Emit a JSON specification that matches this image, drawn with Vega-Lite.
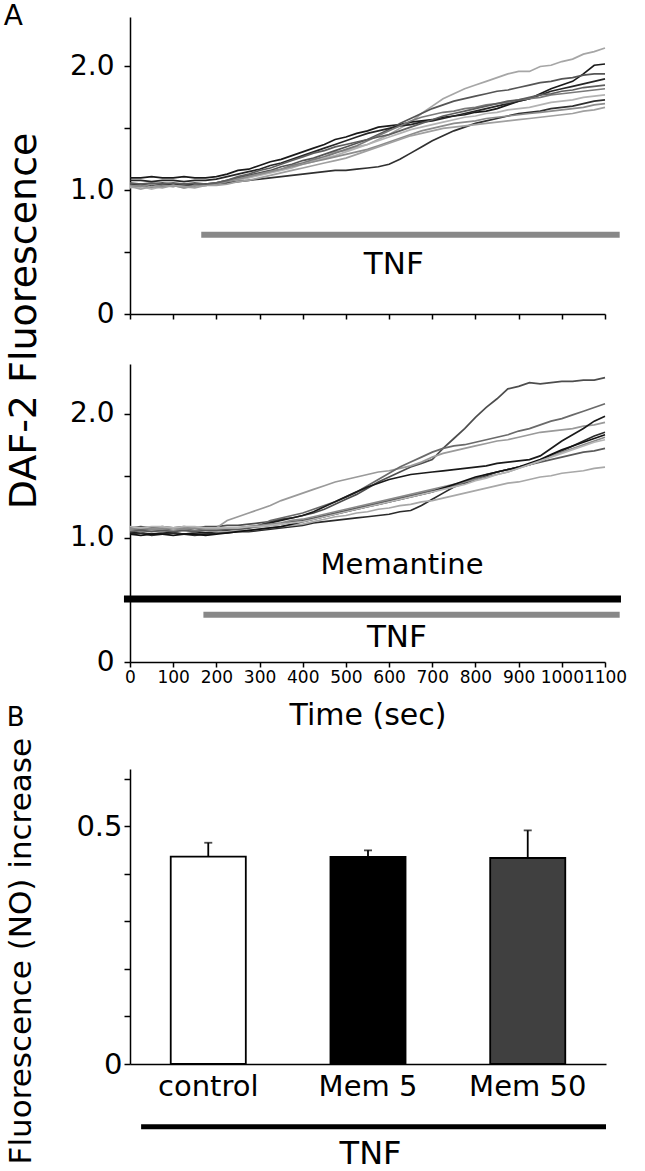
{
"$schema": "https://vega.github.io/schema/vega-lite/v6.json",
"padding": {"left": 3, "top": 3, "right": 5, "bottom": 2},
"bounds": "flush",
"spacing": 50,
"config": {
  "font": "DejaVu Sans",
  "view": {"stroke": null},
  "text": {"font": "DejaVu Sans", "color": "black"},
  "axis": {"domainColor": "black", "tickColor": "black", "labelColor": "black", "titleColor": "black", "grid": false, "domainWidth": 1.5, "tickWidth": 1.5, "labelFont": "DejaVu Sans", "titleFont": "DejaVu Sans", "titleFontWeight": "normal", "labelOverlap": false, "labelBound": false, "labelFlush": false}
},
"resolve": {"scale": {"color": "independent"}},
"datasets": {
"a1": [
{"s":"a1","t":0,"v":1.04},{"s":"a1","t":25,"v":1.03},{"s":"a1","t":50,"v":1.05},{"s":"a1","t":75,"v":1.04},{"s":"a1","t":100,"v":1.05},{"s":"a1","t":125,"v":1.04},{"s":"a1","t":150,"v":1.05},{"s":"a1","t":175,"v":1.05},{"s":"a1","t":200,"v":1.06},{"s":"a1","t":225,"v":1.08},{"s":"a1","t":250,"v":1.10},{"s":"a1","t":275,"v":1.11},{"s":"a1","t":300,"v":1.13},{"s":"a1","t":325,"v":1.15},{"s":"a1","t":350,"v":1.17},{"s":"a1","t":375,"v":1.20},{"s":"a1","t":400,"v":1.22},{"s":"a1","t":425,"v":1.24},{"s":"a1","t":450,"v":1.27},{"s":"a1","t":475,"v":1.31},{"s":"a1","t":500,"v":1.32},{"s":"a1","t":525,"v":1.35},{"s":"a1","t":550,"v":1.37},{"s":"a1","t":575,"v":1.41},{"s":"a1","t":600,"v":1.45},{"s":"a1","t":625,"v":1.50},{"s":"a1","t":650,"v":1.55},{"s":"a1","t":675,"v":1.62},{"s":"a1","t":700,"v":1.68},{"s":"a1","t":725,"v":1.74},{"s":"a1","t":750,"v":1.78},{"s":"a1","t":775,"v":1.82},{"s":"a1","t":800,"v":1.85},{"s":"a1","t":825,"v":1.88},{"s":"a1","t":850,"v":1.91},{"s":"a1","t":875,"v":1.94},{"s":"a1","t":900,"v":1.96},{"s":"a1","t":925,"v":1.96},{"s":"a1","t":950,"v":2.00},{"s":"a1","t":975,"v":2.01},{"s":"a1","t":1000,"v":2.04},{"s":"a1","t":1025,"v":2.06},{"s":"a1","t":1050,"v":2.10},{"s":"a1","t":1075,"v":2.12},{"s":"a1","t":1100,"v":2.15},
{"s":"a2","t":0,"v":1.10},{"s":"a2","t":25,"v":1.10},{"s":"a2","t":50,"v":1.11},{"s":"a2","t":75,"v":1.10},{"s":"a2","t":100,"v":1.10},{"s":"a2","t":125,"v":1.11},{"s":"a2","t":150,"v":1.10},{"s":"a2","t":175,"v":1.10},{"s":"a2","t":200,"v":1.11},{"s":"a2","t":225,"v":1.13},{"s":"a2","t":250,"v":1.16},{"s":"a2","t":275,"v":1.17},{"s":"a2","t":300,"v":1.20},{"s":"a2","t":325,"v":1.23},{"s":"a2","t":350,"v":1.25},{"s":"a2","t":375,"v":1.28},{"s":"a2","t":400,"v":1.31},{"s":"a2","t":425,"v":1.34},{"s":"a2","t":450,"v":1.37},{"s":"a2","t":475,"v":1.41},{"s":"a2","t":500,"v":1.43},{"s":"a2","t":525,"v":1.46},{"s":"a2","t":550,"v":1.48},{"s":"a2","t":575,"v":1.51},{"s":"a2","t":600,"v":1.52},{"s":"a2","t":625,"v":1.53},{"s":"a2","t":650,"v":1.55},{"s":"a2","t":675,"v":1.56},{"s":"a2","t":700,"v":1.57},{"s":"a2","t":725,"v":1.59},{"s":"a2","t":750,"v":1.60},{"s":"a2","t":775,"v":1.61},{"s":"a2","t":800,"v":1.63},{"s":"a2","t":825,"v":1.64},{"s":"a2","t":850,"v":1.66},{"s":"a2","t":875,"v":1.69},{"s":"a2","t":900,"v":1.72},{"s":"a2","t":925,"v":1.74},{"s":"a2","t":950,"v":1.78},{"s":"a2","t":975,"v":1.82},{"s":"a2","t":1000,"v":1.85},{"s":"a2","t":1025,"v":1.88},{"s":"a2","t":1050,"v":1.94},{"s":"a2","t":1075,"v":2.01},{"s":"a2","t":1100,"v":2.02},
{"s":"a3","t":0,"v":1.05},{"s":"a3","t":25,"v":1.04},{"s":"a3","t":50,"v":1.05},{"s":"a3","t":75,"v":1.06},{"s":"a3","t":100,"v":1.05},{"s":"a3","t":125,"v":1.04},{"s":"a3","t":150,"v":1.05},{"s":"a3","t":175,"v":1.05},{"s":"a3","t":200,"v":1.06},{"s":"a3","t":225,"v":1.08},{"s":"a3","t":250,"v":1.10},{"s":"a3","t":275,"v":1.12},{"s":"a3","t":300,"v":1.14},{"s":"a3","t":325,"v":1.16},{"s":"a3","t":350,"v":1.19},{"s":"a3","t":375,"v":1.21},{"s":"a3","t":400,"v":1.24},{"s":"a3","t":425,"v":1.26},{"s":"a3","t":450,"v":1.29},{"s":"a3","t":475,"v":1.32},{"s":"a3","t":500,"v":1.35},{"s":"a3","t":525,"v":1.38},{"s":"a3","t":550,"v":1.41},{"s":"a3","t":575,"v":1.45},{"s":"a3","t":600,"v":1.49},{"s":"a3","t":625,"v":1.54},{"s":"a3","t":650,"v":1.58},{"s":"a3","t":675,"v":1.62},{"s":"a3","t":700,"v":1.66},{"s":"a3","t":725,"v":1.69},{"s":"a3","t":750,"v":1.72},{"s":"a3","t":775,"v":1.74},{"s":"a3","t":800,"v":1.76},{"s":"a3","t":825,"v":1.78},{"s":"a3","t":850,"v":1.80},{"s":"a3","t":875,"v":1.81},{"s":"a3","t":900,"v":1.83},{"s":"a3","t":925,"v":1.85},{"s":"a3","t":950,"v":1.87},{"s":"a3","t":975,"v":1.88},{"s":"a3","t":1000,"v":1.90},{"s":"a3","t":1025,"v":1.91},{"s":"a3","t":1050,"v":1.93},{"s":"a3","t":1075,"v":1.94},{"s":"a3","t":1100,"v":1.94},
{"s":"a4","t":0,"v":1.08},{"s":"a4","t":25,"v":1.08},{"s":"a4","t":50,"v":1.07},{"s":"a4","t":75,"v":1.08},{"s":"a4","t":100,"v":1.08},{"s":"a4","t":125,"v":1.07},{"s":"a4","t":150,"v":1.08},{"s":"a4","t":175,"v":1.08},{"s":"a4","t":200,"v":1.09},{"s":"a4","t":225,"v":1.11},{"s":"a4","t":250,"v":1.13},{"s":"a4","t":275,"v":1.15},{"s":"a4","t":300,"v":1.17},{"s":"a4","t":325,"v":1.20},{"s":"a4","t":350,"v":1.22},{"s":"a4","t":375,"v":1.25},{"s":"a4","t":400,"v":1.28},{"s":"a4","t":425,"v":1.31},{"s":"a4","t":450,"v":1.34},{"s":"a4","t":475,"v":1.37},{"s":"a4","t":500,"v":1.40},{"s":"a4","t":525,"v":1.43},{"s":"a4","t":550,"v":1.46},{"s":"a4","t":575,"v":1.48},{"s":"a4","t":600,"v":1.50},{"s":"a4","t":625,"v":1.52},{"s":"a4","t":650,"v":1.53},{"s":"a4","t":675,"v":1.55},{"s":"a4","t":700,"v":1.56},{"s":"a4","t":725,"v":1.58},{"s":"a4","t":750,"v":1.60},{"s":"a4","t":775,"v":1.62},{"s":"a4","t":800,"v":1.64},{"s":"a4","t":825,"v":1.66},{"s":"a4","t":850,"v":1.68},{"s":"a4","t":875,"v":1.70},{"s":"a4","t":900,"v":1.72},{"s":"a4","t":925,"v":1.74},{"s":"a4","t":950,"v":1.77},{"s":"a4","t":975,"v":1.80},{"s":"a4","t":1000,"v":1.82},{"s":"a4","t":1025,"v":1.84},{"s":"a4","t":1050,"v":1.86},{"s":"a4","t":1075,"v":1.88},{"s":"a4","t":1100,"v":1.90},
{"s":"a5","t":0,"v":1.03},{"s":"a5","t":25,"v":1.04},{"s":"a5","t":50,"v":1.02},{"s":"a5","t":75,"v":1.04},{"s":"a5","t":100,"v":1.03},{"s":"a5","t":125,"v":1.05},{"s":"a5","t":150,"v":1.04},{"s":"a5","t":175,"v":1.04},{"s":"a5","t":200,"v":1.05},{"s":"a5","t":225,"v":1.07},{"s":"a5","t":250,"v":1.09},{"s":"a5","t":275,"v":1.11},{"s":"a5","t":300,"v":1.13},{"s":"a5","t":325,"v":1.15},{"s":"a5","t":350,"v":1.17},{"s":"a5","t":375,"v":1.20},{"s":"a5","t":400,"v":1.22},{"s":"a5","t":425,"v":1.25},{"s":"a5","t":450,"v":1.27},{"s":"a5","t":475,"v":1.30},{"s":"a5","t":500,"v":1.33},{"s":"a5","t":525,"v":1.36},{"s":"a5","t":550,"v":1.40},{"s":"a5","t":575,"v":1.44},{"s":"a5","t":600,"v":1.48},{"s":"a5","t":625,"v":1.52},{"s":"a5","t":650,"v":1.56},{"s":"a5","t":675,"v":1.59},{"s":"a5","t":700,"v":1.61},{"s":"a5","t":725,"v":1.63},{"s":"a5","t":750,"v":1.64},{"s":"a5","t":775,"v":1.66},{"s":"a5","t":800,"v":1.67},{"s":"a5","t":825,"v":1.69},{"s":"a5","t":850,"v":1.70},{"s":"a5","t":875,"v":1.71},{"s":"a5","t":900,"v":1.73},{"s":"a5","t":925,"v":1.74},{"s":"a5","t":950,"v":1.75},{"s":"a5","t":975,"v":1.77},{"s":"a5","t":1000,"v":1.78},{"s":"a5","t":1025,"v":1.79},{"s":"a5","t":1050,"v":1.80},{"s":"a5","t":1075,"v":1.81},{"s":"a5","t":1100,"v":1.82},
{"s":"a6","t":0,"v":1.02},{"s":"a6","t":25,"v":1.03},{"s":"a6","t":50,"v":1.01},{"s":"a6","t":75,"v":1.03},{"s":"a6","t":100,"v":1.04},{"s":"a6","t":125,"v":1.02},{"s":"a6","t":150,"v":1.03},{"s":"a6","t":175,"v":1.04},{"s":"a6","t":200,"v":1.05},{"s":"a6","t":225,"v":1.06},{"s":"a6","t":250,"v":1.08},{"s":"a6","t":275,"v":1.10},{"s":"a6","t":300,"v":1.12},{"s":"a6","t":325,"v":1.14},{"s":"a6","t":350,"v":1.16},{"s":"a6","t":375,"v":1.18},{"s":"a6","t":400,"v":1.21},{"s":"a6","t":425,"v":1.23},{"s":"a6","t":450,"v":1.26},{"s":"a6","t":475,"v":1.28},{"s":"a6","t":500,"v":1.31},{"s":"a6","t":525,"v":1.34},{"s":"a6","t":550,"v":1.37},{"s":"a6","t":575,"v":1.40},{"s":"a6","t":600,"v":1.43},{"s":"a6","t":625,"v":1.46},{"s":"a6","t":650,"v":1.49},{"s":"a6","t":675,"v":1.51},{"s":"a6","t":700,"v":1.53},{"s":"a6","t":725,"v":1.55},{"s":"a6","t":750,"v":1.57},{"s":"a6","t":775,"v":1.59},{"s":"a6","t":800,"v":1.60},{"s":"a6","t":825,"v":1.62},{"s":"a6","t":850,"v":1.63},{"s":"a6","t":875,"v":1.65},{"s":"a6","t":900,"v":1.66},{"s":"a6","t":925,"v":1.67},{"s":"a6","t":950,"v":1.69},{"s":"a6","t":975,"v":1.71},{"s":"a6","t":1000,"v":1.72},{"s":"a6","t":1025,"v":1.73},{"s":"a6","t":1050,"v":1.75},{"s":"a6","t":1075,"v":1.76},{"s":"a6","t":1100,"v":1.77},
{"s":"a7","t":0,"v":1.05},{"s":"a7","t":25,"v":1.05},{"s":"a7","t":50,"v":1.04},{"s":"a7","t":75,"v":1.05},{"s":"a7","t":100,"v":1.05},{"s":"a7","t":125,"v":1.05},{"s":"a7","t":150,"v":1.04},{"s":"a7","t":175,"v":1.05},{"s":"a7","t":200,"v":1.05},{"s":"a7","t":225,"v":1.06},{"s":"a7","t":250,"v":1.07},{"s":"a7","t":275,"v":1.08},{"s":"a7","t":300,"v":1.09},{"s":"a7","t":325,"v":1.10},{"s":"a7","t":350,"v":1.11},{"s":"a7","t":375,"v":1.12},{"s":"a7","t":400,"v":1.13},{"s":"a7","t":425,"v":1.14},{"s":"a7","t":450,"v":1.15},{"s":"a7","t":475,"v":1.16},{"s":"a7","t":500,"v":1.16},{"s":"a7","t":525,"v":1.17},{"s":"a7","t":550,"v":1.18},{"s":"a7","t":575,"v":1.19},{"s":"a7","t":600,"v":1.21},{"s":"a7","t":625,"v":1.25},{"s":"a7","t":650,"v":1.30},{"s":"a7","t":675,"v":1.35},{"s":"a7","t":700,"v":1.40},{"s":"a7","t":725,"v":1.44},{"s":"a7","t":750,"v":1.48},{"s":"a7","t":775,"v":1.51},{"s":"a7","t":800,"v":1.54},{"s":"a7","t":825,"v":1.56},{"s":"a7","t":850,"v":1.58},{"s":"a7","t":875,"v":1.60},{"s":"a7","t":900,"v":1.62},{"s":"a7","t":925,"v":1.63},{"s":"a7","t":950,"v":1.64},{"s":"a7","t":975,"v":1.66},{"s":"a7","t":1000,"v":1.67},{"s":"a7","t":1025,"v":1.68},{"s":"a7","t":1050,"v":1.70},{"s":"a7","t":1075,"v":1.72},{"s":"a7","t":1100,"v":1.73},
{"s":"a8","t":0,"v":1.04},{"s":"a8","t":25,"v":1.03},{"s":"a8","t":50,"v":1.05},{"s":"a8","t":75,"v":1.03},{"s":"a8","t":100,"v":1.04},{"s":"a8","t":125,"v":1.02},{"s":"a8","t":150,"v":1.04},{"s":"a8","t":175,"v":1.04},{"s":"a8","t":200,"v":1.05},{"s":"a8","t":225,"v":1.07},{"s":"a8","t":250,"v":1.09},{"s":"a8","t":275,"v":1.11},{"s":"a8","t":300,"v":1.13},{"s":"a8","t":325,"v":1.15},{"s":"a8","t":350,"v":1.17},{"s":"a8","t":375,"v":1.19},{"s":"a8","t":400,"v":1.21},{"s":"a8","t":425,"v":1.23},{"s":"a8","t":450,"v":1.25},{"s":"a8","t":475,"v":1.27},{"s":"a8","t":500,"v":1.29},{"s":"a8","t":525,"v":1.31},{"s":"a8","t":550,"v":1.33},{"s":"a8","t":575,"v":1.36},{"s":"a8","t":600,"v":1.39},{"s":"a8","t":625,"v":1.42},{"s":"a8","t":650,"v":1.45},{"s":"a8","t":675,"v":1.48},{"s":"a8","t":700,"v":1.50},{"s":"a8","t":725,"v":1.52},{"s":"a8","t":750,"v":1.54},{"s":"a8","t":775,"v":1.55},{"s":"a8","t":800,"v":1.56},{"s":"a8","t":825,"v":1.58},{"s":"a8","t":850,"v":1.59},{"s":"a8","t":875,"v":1.60},{"s":"a8","t":900,"v":1.61},{"s":"a8","t":925,"v":1.62},{"s":"a8","t":950,"v":1.63},{"s":"a8","t":975,"v":1.64},{"s":"a8","t":1000,"v":1.65},{"s":"a8","t":1025,"v":1.66},{"s":"a8","t":1050,"v":1.67},{"s":"a8","t":1075,"v":1.69},{"s":"a8","t":1100,"v":1.70},
{"s":"a9","t":0,"v":1.03},{"s":"a9","t":25,"v":1.01},{"s":"a9","t":50,"v":1.03},{"s":"a9","t":75,"v":1.02},{"s":"a9","t":100,"v":1.04},{"s":"a9","t":125,"v":1.03},{"s":"a9","t":150,"v":1.02},{"s":"a9","t":175,"v":1.04},{"s":"a9","t":200,"v":1.04},{"s":"a9","t":225,"v":1.05},{"s":"a9","t":250,"v":1.07},{"s":"a9","t":275,"v":1.08},{"s":"a9","t":300,"v":1.10},{"s":"a9","t":325,"v":1.12},{"s":"a9","t":350,"v":1.14},{"s":"a9","t":375,"v":1.16},{"s":"a9","t":400,"v":1.18},{"s":"a9","t":425,"v":1.20},{"s":"a9","t":450,"v":1.22},{"s":"a9","t":475,"v":1.24},{"s":"a9","t":500,"v":1.26},{"s":"a9","t":525,"v":1.29},{"s":"a9","t":550,"v":1.32},{"s":"a9","t":575,"v":1.35},{"s":"a9","t":600,"v":1.38},{"s":"a9","t":625,"v":1.41},{"s":"a9","t":650,"v":1.44},{"s":"a9","t":675,"v":1.46},{"s":"a9","t":700,"v":1.48},{"s":"a9","t":725,"v":1.50},{"s":"a9","t":750,"v":1.51},{"s":"a9","t":775,"v":1.52},{"s":"a9","t":800,"v":1.53},{"s":"a9","t":825,"v":1.54},{"s":"a9","t":850,"v":1.55},{"s":"a9","t":875,"v":1.56},{"s":"a9","t":900,"v":1.57},{"s":"a9","t":925,"v":1.58},{"s":"a9","t":950,"v":1.59},{"s":"a9","t":975,"v":1.60},{"s":"a9","t":1000,"v":1.61},{"s":"a9","t":1025,"v":1.62},{"s":"a9","t":1050,"v":1.64},{"s":"a9","t":1075,"v":1.65},{"s":"a9","t":1100,"v":1.67},
{"s":"a10","t":0,"v":1.06},{"s":"a10","t":25,"v":1.05},{"s":"a10","t":50,"v":1.06},{"s":"a10","t":75,"v":1.05},{"s":"a10","t":100,"v":1.06},{"s":"a10","t":125,"v":1.05},{"s":"a10","t":150,"v":1.06},{"s":"a10","t":175,"v":1.05},{"s":"a10","t":200,"v":1.06},{"s":"a10","t":225,"v":1.08},{"s":"a10","t":250,"v":1.11},{"s":"a10","t":275,"v":1.13},{"s":"a10","t":300,"v":1.16},{"s":"a10","t":325,"v":1.18},{"s":"a10","t":350,"v":1.21},{"s":"a10","t":375,"v":1.24},{"s":"a10","t":400,"v":1.27},{"s":"a10","t":425,"v":1.30},{"s":"a10","t":450,"v":1.32},{"s":"a10","t":475,"v":1.35},{"s":"a10","t":500,"v":1.37},{"s":"a10","t":525,"v":1.39},{"s":"a10","t":550,"v":1.41},{"s":"a10","t":575,"v":1.43},{"s":"a10","t":600,"v":1.45},{"s":"a10","t":625,"v":1.48},{"s":"a10","t":650,"v":1.51},{"s":"a10","t":675,"v":1.54},{"s":"a10","t":700,"v":1.57},{"s":"a10","t":725,"v":1.60},{"s":"a10","t":750,"v":1.62},{"s":"a10","t":775,"v":1.64},{"s":"a10","t":800,"v":1.66},{"s":"a10","t":825,"v":1.68},{"s":"a10","t":850,"v":1.70},{"s":"a10","t":875,"v":1.72},{"s":"a10","t":900,"v":1.73},{"s":"a10","t":925,"v":1.75},{"s":"a10","t":950,"v":1.77},{"s":"a10","t":975,"v":1.78},{"s":"a10","t":1000,"v":1.80},{"s":"a10","t":1025,"v":1.81},{"s":"a10","t":1050,"v":1.83},{"s":"a10","t":1075,"v":1.84},{"s":"a10","t":1100,"v":1.85}
],
"a2": [
{"s":"b1","t":0,"v":1.08},{"s":"b1","t":25,"v":1.09},{"s":"b1","t":50,"v":1.08},{"s":"b1","t":75,"v":1.09},{"s":"b1","t":100,"v":1.08},{"s":"b1","t":125,"v":1.09},{"s":"b1","t":150,"v":1.08},{"s":"b1","t":175,"v":1.09},{"s":"b1","t":200,"v":1.09},{"s":"b1","t":225,"v":1.10},{"s":"b1","t":250,"v":1.10},{"s":"b1","t":275,"v":1.11},{"s":"b1","t":300,"v":1.12},{"s":"b1","t":325,"v":1.13},{"s":"b1","t":350,"v":1.15},{"s":"b1","t":375,"v":1.16},{"s":"b1","t":400,"v":1.18},{"s":"b1","t":425,"v":1.20},{"s":"b1","t":450,"v":1.23},{"s":"b1","t":475,"v":1.27},{"s":"b1","t":500,"v":1.31},{"s":"b1","t":525,"v":1.35},{"s":"b1","t":550,"v":1.40},{"s":"b1","t":575,"v":1.45},{"s":"b1","t":600,"v":1.49},{"s":"b1","t":625,"v":1.53},{"s":"b1","t":650,"v":1.57},{"s":"b1","t":675,"v":1.60},{"s":"b1","t":700,"v":1.63},{"s":"b1","t":725,"v":1.72},{"s":"b1","t":750,"v":1.80},{"s":"b1","t":775,"v":1.88},{"s":"b1","t":800,"v":1.97},{"s":"b1","t":825,"v":2.05},{"s":"b1","t":850,"v":2.12},{"s":"b1","t":875,"v":2.20},{"s":"b1","t":900,"v":2.22},{"s":"b1","t":925,"v":2.25},{"s":"b1","t":950,"v":2.24},{"s":"b1","t":975,"v":2.25},{"s":"b1","t":1000,"v":2.26},{"s":"b1","t":1025,"v":2.26},{"s":"b1","t":1050,"v":2.27},{"s":"b1","t":1075,"v":2.27},{"s":"b1","t":1100,"v":2.29},
{"s":"b2","t":0,"v":1.07},{"s":"b2","t":25,"v":1.08},{"s":"b2","t":50,"v":1.07},{"s":"b2","t":75,"v":1.08},{"s":"b2","t":100,"v":1.08},{"s":"b2","t":125,"v":1.07},{"s":"b2","t":150,"v":1.08},{"s":"b2","t":175,"v":1.08},{"s":"b2","t":200,"v":1.08},{"s":"b2","t":225,"v":1.14},{"s":"b2","t":250,"v":1.17},{"s":"b2","t":275,"v":1.20},{"s":"b2","t":300,"v":1.23},{"s":"b2","t":325,"v":1.26},{"s":"b2","t":350,"v":1.30},{"s":"b2","t":375,"v":1.33},{"s":"b2","t":400,"v":1.36},{"s":"b2","t":425,"v":1.39},{"s":"b2","t":450,"v":1.42},{"s":"b2","t":475,"v":1.45},{"s":"b2","t":500,"v":1.47},{"s":"b2","t":525,"v":1.49},{"s":"b2","t":550,"v":1.51},{"s":"b2","t":575,"v":1.53},{"s":"b2","t":600,"v":1.54},{"s":"b2","t":625,"v":1.56},{"s":"b2","t":650,"v":1.58},{"s":"b2","t":675,"v":1.61},{"s":"b2","t":700,"v":1.65},{"s":"b2","t":725,"v":1.68},{"s":"b2","t":750,"v":1.70},{"s":"b2","t":775,"v":1.72},{"s":"b2","t":800,"v":1.74},{"s":"b2","t":825,"v":1.76},{"s":"b2","t":850,"v":1.78},{"s":"b2","t":875,"v":1.79},{"s":"b2","t":900,"v":1.81},{"s":"b2","t":925,"v":1.83},{"s":"b2","t":950,"v":1.85},{"s":"b2","t":975,"v":1.86},{"s":"b2","t":1000,"v":1.87},{"s":"b2","t":1025,"v":1.88},{"s":"b2","t":1050,"v":1.90},{"s":"b2","t":1075,"v":1.91},{"s":"b2","t":1100,"v":1.93},
{"s":"b3","t":0,"v":1.06},{"s":"b3","t":25,"v":1.07},{"s":"b3","t":50,"v":1.06},{"s":"b3","t":75,"v":1.07},{"s":"b3","t":100,"v":1.06},{"s":"b3","t":125,"v":1.07},{"s":"b3","t":150,"v":1.06},{"s":"b3","t":175,"v":1.07},{"s":"b3","t":200,"v":1.07},{"s":"b3","t":225,"v":1.08},{"s":"b3","t":250,"v":1.08},{"s":"b3","t":275,"v":1.09},{"s":"b3","t":300,"v":1.10},{"s":"b3","t":325,"v":1.14},{"s":"b3","t":350,"v":1.16},{"s":"b3","t":375,"v":1.18},{"s":"b3","t":400,"v":1.20},{"s":"b3","t":425,"v":1.23},{"s":"b3","t":450,"v":1.26},{"s":"b3","t":475,"v":1.29},{"s":"b3","t":500,"v":1.33},{"s":"b3","t":525,"v":1.37},{"s":"b3","t":550,"v":1.42},{"s":"b3","t":575,"v":1.47},{"s":"b3","t":600,"v":1.52},{"s":"b3","t":625,"v":1.57},{"s":"b3","t":650,"v":1.61},{"s":"b3","t":675,"v":1.65},{"s":"b3","t":700,"v":1.69},{"s":"b3","t":725,"v":1.72},{"s":"b3","t":750,"v":1.74},{"s":"b3","t":775,"v":1.75},{"s":"b3","t":800,"v":1.77},{"s":"b3","t":825,"v":1.79},{"s":"b3","t":850,"v":1.81},{"s":"b3","t":875,"v":1.83},{"s":"b3","t":900,"v":1.86},{"s":"b3","t":925,"v":1.88},{"s":"b3","t":950,"v":1.91},{"s":"b3","t":975,"v":1.94},{"s":"b3","t":1000,"v":1.96},{"s":"b3","t":1025,"v":1.99},{"s":"b3","t":1050,"v":2.02},{"s":"b3","t":1075,"v":2.05},{"s":"b3","t":1100,"v":2.08},
{"s":"b4","t":0,"v":1.04},{"s":"b4","t":25,"v":1.04},{"s":"b4","t":50,"v":1.03},{"s":"b4","t":75,"v":1.04},{"s":"b4","t":100,"v":1.04},{"s":"b4","t":125,"v":1.03},{"s":"b4","t":150,"v":1.04},{"s":"b4","t":175,"v":1.04},{"s":"b4","t":200,"v":1.05},{"s":"b4","t":225,"v":1.06},{"s":"b4","t":250,"v":1.07},{"s":"b4","t":275,"v":1.08},{"s":"b4","t":300,"v":1.10},{"s":"b4","t":325,"v":1.12},{"s":"b4","t":350,"v":1.14},{"s":"b4","t":375,"v":1.16},{"s":"b4","t":400,"v":1.18},{"s":"b4","t":425,"v":1.21},{"s":"b4","t":450,"v":1.25},{"s":"b4","t":475,"v":1.29},{"s":"b4","t":500,"v":1.33},{"s":"b4","t":525,"v":1.37},{"s":"b4","t":550,"v":1.41},{"s":"b4","t":575,"v":1.44},{"s":"b4","t":600,"v":1.47},{"s":"b4","t":625,"v":1.49},{"s":"b4","t":650,"v":1.51},{"s":"b4","t":675,"v":1.52},{"s":"b4","t":700,"v":1.53},{"s":"b4","t":725,"v":1.54},{"s":"b4","t":750,"v":1.55},{"s":"b4","t":775,"v":1.56},{"s":"b4","t":800,"v":1.57},{"s":"b4","t":825,"v":1.58},{"s":"b4","t":850,"v":1.60},{"s":"b4","t":875,"v":1.61},{"s":"b4","t":900,"v":1.62},{"s":"b4","t":925,"v":1.63},{"s":"b4","t":950,"v":1.66},{"s":"b4","t":975,"v":1.72},{"s":"b4","t":1000,"v":1.78},{"s":"b4","t":1025,"v":1.83},{"s":"b4","t":1050,"v":1.88},{"s":"b4","t":1075,"v":1.94},{"s":"b4","t":1100,"v":1.98},
{"s":"b5","t":0,"v":1.03},{"s":"b5","t":25,"v":1.04},{"s":"b5","t":50,"v":1.02},{"s":"b5","t":75,"v":1.03},{"s":"b5","t":100,"v":1.04},{"s":"b5","t":125,"v":1.03},{"s":"b5","t":150,"v":1.02},{"s":"b5","t":175,"v":1.03},{"s":"b5","t":200,"v":1.04},{"s":"b5","t":225,"v":1.04},{"s":"b5","t":250,"v":1.05},{"s":"b5","t":275,"v":1.05},{"s":"b5","t":300,"v":1.06},{"s":"b5","t":325,"v":1.07},{"s":"b5","t":350,"v":1.08},{"s":"b5","t":375,"v":1.09},{"s":"b5","t":400,"v":1.10},{"s":"b5","t":425,"v":1.12},{"s":"b5","t":450,"v":1.13},{"s":"b5","t":475,"v":1.14},{"s":"b5","t":500,"v":1.15},{"s":"b5","t":525,"v":1.16},{"s":"b5","t":550,"v":1.17},{"s":"b5","t":575,"v":1.18},{"s":"b5","t":600,"v":1.19},{"s":"b5","t":625,"v":1.21},{"s":"b5","t":650,"v":1.22},{"s":"b5","t":675,"v":1.26},{"s":"b5","t":700,"v":1.31},{"s":"b5","t":725,"v":1.36},{"s":"b5","t":750,"v":1.41},{"s":"b5","t":775,"v":1.44},{"s":"b5","t":800,"v":1.47},{"s":"b5","t":825,"v":1.50},{"s":"b5","t":850,"v":1.53},{"s":"b5","t":875,"v":1.55},{"s":"b5","t":900,"v":1.57},{"s":"b5","t":925,"v":1.59},{"s":"b5","t":950,"v":1.62},{"s":"b5","t":975,"v":1.66},{"s":"b5","t":1000,"v":1.70},{"s":"b5","t":1025,"v":1.74},{"s":"b5","t":1050,"v":1.78},{"s":"b5","t":1075,"v":1.82},{"s":"b5","t":1100,"v":1.85},
{"s":"b6","t":0,"v":1.06},{"s":"b6","t":25,"v":1.05},{"s":"b6","t":50,"v":1.06},{"s":"b6","t":75,"v":1.05},{"s":"b6","t":100,"v":1.06},{"s":"b6","t":125,"v":1.06},{"s":"b6","t":150,"v":1.05},{"s":"b6","t":175,"v":1.06},{"s":"b6","t":200,"v":1.05},{"s":"b6","t":225,"v":1.05},{"s":"b6","t":250,"v":1.06},{"s":"b6","t":275,"v":1.06},{"s":"b6","t":300,"v":1.07},{"s":"b6","t":325,"v":1.08},{"s":"b6","t":350,"v":1.09},{"s":"b6","t":375,"v":1.10},{"s":"b6","t":400,"v":1.11},{"s":"b6","t":425,"v":1.13},{"s":"b6","t":450,"v":1.15},{"s":"b6","t":475,"v":1.17},{"s":"b6","t":500,"v":1.18},{"s":"b6","t":525,"v":1.20},{"s":"b6","t":550,"v":1.21},{"s":"b6","t":575,"v":1.23},{"s":"b6","t":600,"v":1.24},{"s":"b6","t":625,"v":1.26},{"s":"b6","t":650,"v":1.27},{"s":"b6","t":675,"v":1.29},{"s":"b6","t":700,"v":1.30},{"s":"b6","t":725,"v":1.32},{"s":"b6","t":750,"v":1.34},{"s":"b6","t":775,"v":1.36},{"s":"b6","t":800,"v":1.38},{"s":"b6","t":825,"v":1.40},{"s":"b6","t":850,"v":1.42},{"s":"b6","t":875,"v":1.44},{"s":"b6","t":900,"v":1.45},{"s":"b6","t":925,"v":1.47},{"s":"b6","t":950,"v":1.49},{"s":"b6","t":975,"v":1.50},{"s":"b6","t":1000,"v":1.52},{"s":"b6","t":1025,"v":1.53},{"s":"b6","t":1050,"v":1.54},{"s":"b6","t":1075,"v":1.56},{"s":"b6","t":1100,"v":1.57},
{"s":"b7","t":0,"v":1.05},{"s":"b7","t":25,"v":1.06},{"s":"b7","t":50,"v":1.05},{"s":"b7","t":75,"v":1.06},{"s":"b7","t":100,"v":1.05},{"s":"b7","t":125,"v":1.06},{"s":"b7","t":150,"v":1.05},{"s":"b7","t":175,"v":1.06},{"s":"b7","t":200,"v":1.06},{"s":"b7","t":225,"v":1.07},{"s":"b7","t":250,"v":1.07},{"s":"b7","t":275,"v":1.08},{"s":"b7","t":300,"v":1.09},{"s":"b7","t":325,"v":1.10},{"s":"b7","t":350,"v":1.11},{"s":"b7","t":375,"v":1.13},{"s":"b7","t":400,"v":1.14},{"s":"b7","t":425,"v":1.16},{"s":"b7","t":450,"v":1.18},{"s":"b7","t":475,"v":1.20},{"s":"b7","t":500,"v":1.22},{"s":"b7","t":525,"v":1.24},{"s":"b7","t":550,"v":1.26},{"s":"b7","t":575,"v":1.28},{"s":"b7","t":600,"v":1.30},{"s":"b7","t":625,"v":1.32},{"s":"b7","t":650,"v":1.34},{"s":"b7","t":675,"v":1.36},{"s":"b7","t":700,"v":1.38},{"s":"b7","t":725,"v":1.40},{"s":"b7","t":750,"v":1.42},{"s":"b7","t":775,"v":1.45},{"s":"b7","t":800,"v":1.48},{"s":"b7","t":825,"v":1.51},{"s":"b7","t":850,"v":1.53},{"s":"b7","t":875,"v":1.55},{"s":"b7","t":900,"v":1.57},{"s":"b7","t":925,"v":1.59},{"s":"b7","t":950,"v":1.61},{"s":"b7","t":975,"v":1.63},{"s":"b7","t":1000,"v":1.65},{"s":"b7","t":1025,"v":1.67},{"s":"b7","t":1050,"v":1.69},{"s":"b7","t":1075,"v":1.70},{"s":"b7","t":1100,"v":1.72},
{"s":"b8","t":0,"v":1.07},{"s":"b8","t":25,"v":1.08},{"s":"b8","t":50,"v":1.07},{"s":"b8","t":75,"v":1.07},{"s":"b8","t":100,"v":1.08},{"s":"b8","t":125,"v":1.07},{"s":"b8","t":150,"v":1.08},{"s":"b8","t":175,"v":1.07},{"s":"b8","t":200,"v":1.07},{"s":"b8","t":225,"v":1.08},{"s":"b8","t":250,"v":1.08},{"s":"b8","t":275,"v":1.09},{"s":"b8","t":300,"v":1.10},{"s":"b8","t":325,"v":1.11},{"s":"b8","t":350,"v":1.12},{"s":"b8","t":375,"v":1.14},{"s":"b8","t":400,"v":1.15},{"s":"b8","t":425,"v":1.17},{"s":"b8","t":450,"v":1.19},{"s":"b8","t":475,"v":1.21},{"s":"b8","t":500,"v":1.23},{"s":"b8","t":525,"v":1.25},{"s":"b8","t":550,"v":1.27},{"s":"b8","t":575,"v":1.29},{"s":"b8","t":600,"v":1.31},{"s":"b8","t":625,"v":1.33},{"s":"b8","t":650,"v":1.35},{"s":"b8","t":675,"v":1.37},{"s":"b8","t":700,"v":1.39},{"s":"b8","t":725,"v":1.41},{"s":"b8","t":750,"v":1.43},{"s":"b8","t":775,"v":1.45},{"s":"b8","t":800,"v":1.47},{"s":"b8","t":825,"v":1.49},{"s":"b8","t":850,"v":1.51},{"s":"b8","t":875,"v":1.53},{"s":"b8","t":900,"v":1.56},{"s":"b8","t":925,"v":1.59},{"s":"b8","t":950,"v":1.62},{"s":"b8","t":975,"v":1.66},{"s":"b8","t":1000,"v":1.69},{"s":"b8","t":1025,"v":1.72},{"s":"b8","t":1050,"v":1.75},{"s":"b8","t":1075,"v":1.78},{"s":"b8","t":1100,"v":1.81},
{"s":"b9","t":0,"v":1.03},{"s":"b9","t":25,"v":1.02},{"s":"b9","t":50,"v":1.03},{"s":"b9","t":75,"v":1.03},{"s":"b9","t":100,"v":1.02},{"s":"b9","t":125,"v":1.03},{"s":"b9","t":150,"v":1.03},{"s":"b9","t":175,"v":1.02},{"s":"b9","t":200,"v":1.03},{"s":"b9","t":225,"v":1.04},{"s":"b9","t":250,"v":1.05},{"s":"b9","t":275,"v":1.06},{"s":"b9","t":300,"v":1.07},{"s":"b9","t":325,"v":1.08},{"s":"b9","t":350,"v":1.09},{"s":"b9","t":375,"v":1.11},{"s":"b9","t":400,"v":1.13},{"s":"b9","t":425,"v":1.15},{"s":"b9","t":450,"v":1.17},{"s":"b9","t":475,"v":1.19},{"s":"b9","t":500,"v":1.21},{"s":"b9","t":525,"v":1.23},{"s":"b9","t":550,"v":1.25},{"s":"b9","t":575,"v":1.27},{"s":"b9","t":600,"v":1.29},{"s":"b9","t":625,"v":1.31},{"s":"b9","t":650,"v":1.33},{"s":"b9","t":675,"v":1.35},{"s":"b9","t":700,"v":1.37},{"s":"b9","t":725,"v":1.40},{"s":"b9","t":750,"v":1.43},{"s":"b9","t":775,"v":1.46},{"s":"b9","t":800,"v":1.49},{"s":"b9","t":825,"v":1.51},{"s":"b9","t":850,"v":1.53},{"s":"b9","t":875,"v":1.55},{"s":"b9","t":900,"v":1.57},{"s":"b9","t":925,"v":1.60},{"s":"b9","t":950,"v":1.63},{"s":"b9","t":975,"v":1.67},{"s":"b9","t":1000,"v":1.71},{"s":"b9","t":1025,"v":1.74},{"s":"b9","t":1050,"v":1.77},{"s":"b9","t":1075,"v":1.80},{"s":"b9","t":1100,"v":1.83},
{"s":"b10","t":0,"v":1.09},{"s":"b10","t":25,"v":1.08},{"s":"b10","t":50,"v":1.09},{"s":"b10","t":75,"v":1.09},{"s":"b10","t":100,"v":1.08},{"s":"b10","t":125,"v":1.09},{"s":"b10","t":150,"v":1.09},{"s":"b10","t":175,"v":1.08},{"s":"b10","t":200,"v":1.08},{"s":"b10","t":225,"v":1.08},{"s":"b10","t":250,"v":1.08},{"s":"b10","t":275,"v":1.09},{"s":"b10","t":300,"v":1.09},{"s":"b10","t":325,"v":1.10},{"s":"b10","t":350,"v":1.11},{"s":"b10","t":375,"v":1.12},{"s":"b10","t":400,"v":1.13},{"s":"b10","t":425,"v":1.15},{"s":"b10","t":450,"v":1.17},{"s":"b10","t":475,"v":1.19},{"s":"b10","t":500,"v":1.21},{"s":"b10","t":525,"v":1.23},{"s":"b10","t":550,"v":1.25},{"s":"b10","t":575,"v":1.27},{"s":"b10","t":600,"v":1.29},{"s":"b10","t":625,"v":1.31},{"s":"b10","t":650,"v":1.33},{"s":"b10","t":675,"v":1.35},{"s":"b10","t":700,"v":1.37},{"s":"b10","t":725,"v":1.39},{"s":"b10","t":750,"v":1.41},{"s":"b10","t":775,"v":1.43},{"s":"b10","t":800,"v":1.46},{"s":"b10","t":825,"v":1.48},{"s":"b10","t":850,"v":1.51},{"s":"b10","t":875,"v":1.53},{"s":"b10","t":900,"v":1.56},{"s":"b10","t":925,"v":1.59},{"s":"b10","t":950,"v":1.62},{"s":"b10","t":975,"v":1.65},{"s":"b10","t":1000,"v":1.68},{"s":"b10","t":1025,"v":1.71},{"s":"b10","t":1050,"v":1.74},{"s":"b10","t":1075,"v":1.77},{"s":"b10","t":1100,"v":1.79}
],
"bars": [
{"g":"control","m":0.436,"u":0.465},
{"g":"Mem 5","m":0.435,"u":0.449},
{"g":"Mem 50","m":0.433,"u":0.491}
]
},
"vconcat": [
{
"width": 475, "height": 297,
"layer": [
{"data": {"name": "a1"},
 "mark": {"type": "line", "strokeWidth": 1.7},
 "encoding": {
  "x": {"field": "t", "type": "quantitative", "scale": {"domain": [0, 1100], "nice": false, "zero": false},
        "axis": {"values": [0,100,200,300,400,500,600,700,800,900,1000,1100], "labels": false, "tickSize": 5, "title": null}},
  "y": {"field": "v", "type": "quantitative", "scale": {"domain": [0, 2.4], "nice": false},
        "axis": {"values": [0,0.5,1,1.5,2], "labelExpr": "datum.value==0?'0':datum.value==1?'1.0':datum.value==2?'2.0':''", "tickSize": 6, "labelFontSize": 28, "labelPadding": 10, "title": null}},
  "color": {"field": "s", "type": "nominal", "legend": null,
    "scale": {"domain": ["a1","a2","a3","a4","a5","a6","a7","a8","a9","a10"], "range": ["#a6a6a6","#1a1a1a","#555555","#262626","#7a7a7a","#b3b3b3","#303030","#8c8c8c","#a0a0a0","#5e5e5e"]}}
 }},
{"data": {"values": [{}]}, "mark": {"type": "rule", "strokeWidth": 6, "color": "#888888"},
 "encoding": {"x": {"datum": 165}, "x2": {"datum": 1134}, "y": {"datum": 0.64}}},
{"data": {"values": [{}]}, "mark": {"type": "text", "fontSize": 31, "baseline": "middle", "align": "center"},
 "encoding": {"x": {"datum": 611}, "y": {"datum": 0.4}, "text": {"value": "TNF"}}},
{"data": {"values": [{}]}, "mark": {"type": "text", "fontSize": 28, "baseline": "middle", "align": "center"},
 "encoding": {"x": {"datum": -270}, "y": {"datum": 2.40}, "text": {"value": "A"}}},
{"data": {"values": [{}]}, "mark": {"type": "text", "fontSize": 38, "baseline": "middle", "align": "center", "angle": 270},
 "encoding": {"x": {"datum": -243}, "y": {"datum": -0.056}, "text": {"value": "DAF-2 Fluorescence"}}}
]
},
{
"width": 475, "height": 298,
"layer": [
{"data": {"name": "a2"},
 "mark": {"type": "line", "strokeWidth": 1.7},
 "encoding": {
  "x": {"field": "t", "type": "quantitative", "scale": {"domain": [0, 1100], "nice": false, "zero": false},
        "axis": {"values": [0,100,200,300,400,500,600,700,800,900,1000,1100], "format": "d", "tickSize": 5, "labelFontSize": 17, "labelPadding": 2, "title": "Time (sec)", "titleFontSize": 30, "titlePadding": 15}},
  "y": {"field": "v", "type": "quantitative", "scale": {"domain": [0, 2.4], "nice": false},
        "axis": {"values": [0,0.5,1,1.5,2], "labelExpr": "datum.value==0?'0':datum.value==1?'1.0':datum.value==2?'2.0':''", "tickSize": 6, "labelFontSize": 28, "labelPadding": 10, "title": null}},
  "color": {"field": "s", "type": "nominal", "legend": null,
    "scale": {"domain": ["b1","b2","b3","b4","b5","b6","b7","b8","b9","b10"], "range": ["#4d4d4d","#9a9a9a","#6a6a6a","#1a1a1a","#2b2b2b","#a8a8a8","#5a5a5a","#8a8a8a","#111111","#b5b5b5"]}}
 }},
{"data": {"values": [{}]}, "mark": {"type": "rule", "strokeWidth": 7, "color": "#000000"},
 "encoding": {"x": {"datum": -14}, "x2": {"datum": 1137}, "y": {"datum": 0.508}}},
{"data": {"values": [{}]}, "mark": {"type": "rule", "strokeWidth": 6, "color": "#888888"},
 "encoding": {"x": {"datum": 170}, "x2": {"datum": 1134}, "y": {"datum": 0.38}}},
{"data": {"values": [{}]}, "mark": {"type": "text", "fontSize": 29, "baseline": "middle", "align": "center"},
 "encoding": {"x": {"datum": 630}, "y": {"datum": 0.78}, "text": {"value": "Memantine"}}},
{"data": {"values": [{}]}, "mark": {"type": "text", "fontSize": 31, "baseline": "middle", "align": "center"},
 "encoding": {"x": {"datum": 618}, "y": {"datum": 0.19}, "text": {"value": "TNF"}}},
{"data": {"values": [{}]}, "mark": {"type": "text", "fontSize": 26, "baseline": "middle", "align": "center"},
 "encoding": {"x": {"datum": -265}, "y": {"datum": -0.452}, "text": {"value": "B"}}}
]
},
{
"width": 475, "height": 7,
"data": {"values": [{}]},
"mark": {"type": "rule", "opacity": 0},
"encoding": {}
},
{
"width": 476, "height": 295,
"layer": [
{
"data": {"name": "bars"},
"layer": [
{"mark": {"type": "bar", "stroke": "black", "strokeWidth": 1.8},
 "encoding": {
  "x": {"field": "g", "type": "nominal", "sort": null, "scale": {"paddingInner": 0.53, "paddingOuter": 0.255},
        "axis": {"title": null, "ticks": false, "labelAngle": 0, "labelFontSize": 29, "labelPadding": 8}},
  "y": {"field": "m", "type": "quantitative", "scale": {"domain": [0, 0.62], "nice": false},
        "axis": {"values": [0,0.1,0.2,0.3,0.4,0.5,0.6], "labelExpr": "datum.value==0?'0':datum.value==0.5?'0.5':''", "tickSize": 6, "labelFontSize": 29, "labelPadding": 2, "title": null}},
  "fill": {"field": "g", "type": "nominal", "legend": null, "scale": {"domain": ["control","Mem 5","Mem 50"], "range": ["#ffffff","#000000","#404040"]}}
 }},
{"mark": {"type": "rule", "strokeWidth": 1.8, "color": "black"},
 "encoding": {"x": {"field": "g", "type": "nominal", "sort": null}, "y": {"field": "m", "type": "quantitative"}, "y2": {"field": "u"}}},
{"mark": {"type": "tick", "thickness": 1.8, "size": 8, "color": "black"},
 "encoding": {"x": {"field": "g", "type": "nominal", "sort": null}, "y": {"field": "u", "type": "quantitative"}}}
]
},
{
"data": {"values": [{}]},
"layer": [
{"mark": {"type": "rule", "strokeWidth": 5, "color": "black"},
 "encoding": {"x": {"datum": 0.07, "type": "quantitative", "scale": {"domain": [0, 3], "nice": false, "zero": false}, "axis": null}, "x2": {"datum": 3.0}, "y": {"datum": -0.132}}},
{"mark": {"type": "text", "fontSize": 32, "baseline": "middle", "align": "center"},
 "encoding": {"x": {"datum": 1.516, "type": "quantitative"}, "y": {"datum": -0.19}, "text": {"value": "TNF"}}},
{"mark": {"type": "text", "fontSize": 31, "baseline": "middle", "align": "center", "angle": 270},
 "encoding": {"x": {"datum": -0.68, "type": "quantitative"}, "y": {"datum": 0.237}, "text": {"value": "Fluorescence (NO) increase"}}}
]
}
],
"resolve": {"scale": {"x": "independent"}}
}
]
}
